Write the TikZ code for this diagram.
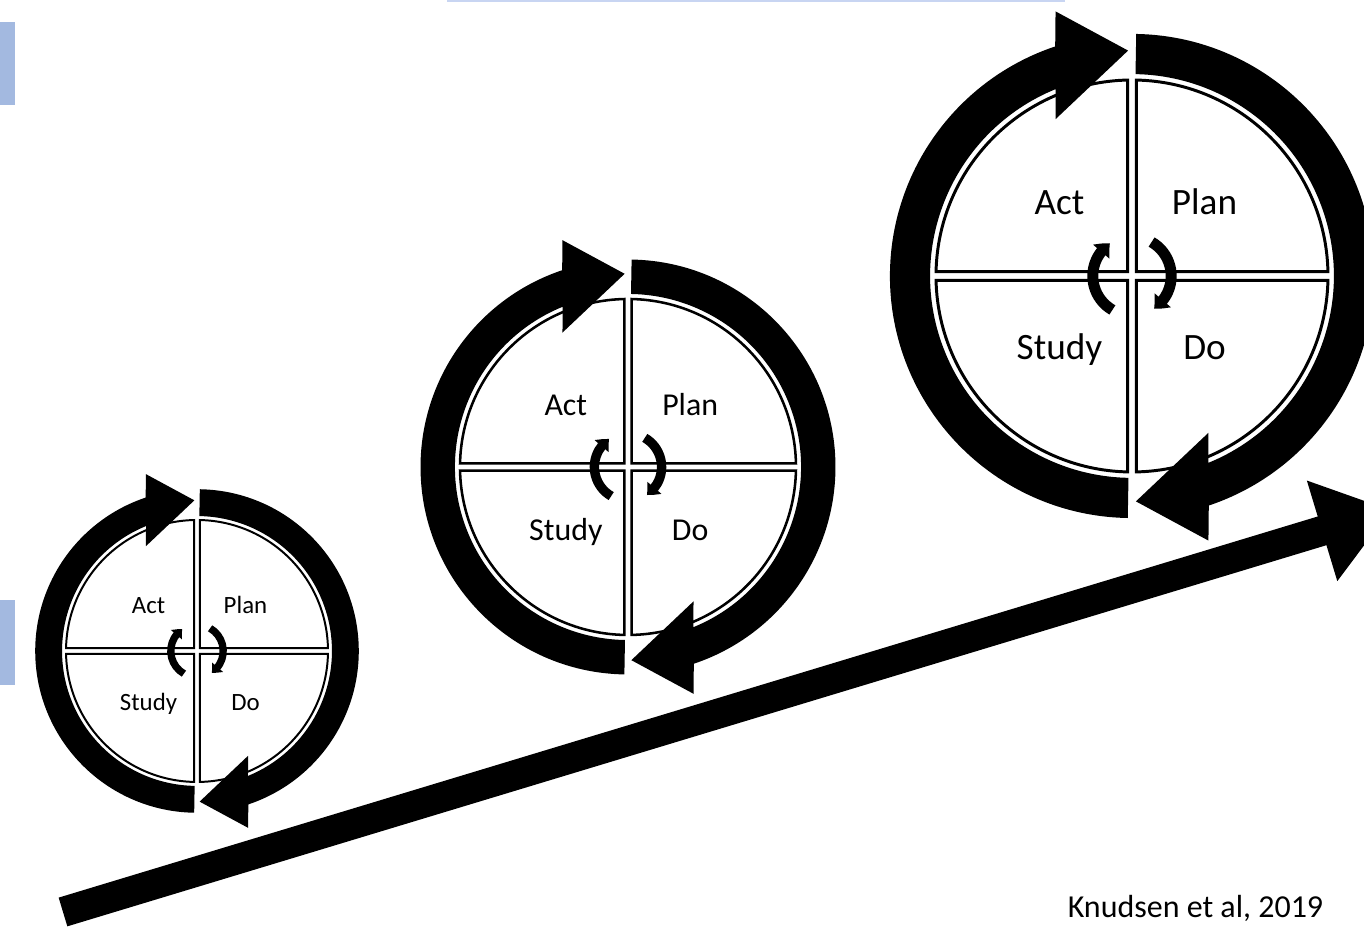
\documentclass[tikz,border=0pt]{standalone}
\usepackage{fontspec}
\setmainfont{Carlito}
\usetikzlibrary{arrows.meta,bending}

\definecolor{markblue}{RGB}{163,185,224}
\definecolor{lineblue}{RGB}{200,213,242}

\begin{document}
\begin{tikzpicture}[
    quadrant/.style={draw=black, fill=white},
    cyclearc/.style={fill=black},
    turn/.style={draw=black, -{Triangle[bend, length=0pt 1.1, width=0pt 1.9]}},
    phase/.style={inner sep=0pt, text height=0.63em, text depth=0pt},
    growth/.style={draw=black, line width=0.30cm, -{Triangle[length=0.72cm, width=1.0cm]}}
]
\useasboundingbox (0,0) rectangle (13.64,9.27);
\clip (0,0) rectangle (13.64,9.27);
\fill[white] (0,0) rectangle (13.64,9.27);

% marks on the edges
\fill[markblue] (0,8.22) rectangle (0.15,9.05);
\fill[markblue] (0,2.42) rectangle (0.15,3.27);
\fill[lineblue] (4.47,9.25) rectangle (10.65,9.27);

% rising arrow
\coordinate (start) at (0.63,0.15);
\coordinate (goal) at (13.91,4.17);
\draw[growth] (start) -- (goal);

% the three cycles
\foreach \n/\x/\y/\r in {a/1.97/2.76/1.31, b/6.28/4.60/1.68, c/11.32/6.51/1.96} {
  \pgfmathsetmacro\fs{5.4*\r}
  \pgfmathsetmacro\lw{0.43*\r}
  \pgfmathsetmacro\tw{0.056*\r}
  \begin{scope}[shift={(\x,\y)}, scale=\r]
    \foreach \a in {0,90,180,270}
      \draw[quadrant, rotate=\a, line width=\lw pt] (0.022,0.022) -- (88.74:1)
        arc[start angle=88.74, end angle=1.26, radius=1] -- cycle;
    \foreach \a in {0,180}
      \fill[cyclearc, rotate=\a] (269:1.235) arc[start angle=269, end angle=108.5, radius=1.235]
        -- (-0.39,1.35) -- (-0.02,1.15) -- (-0.39,0.80) -- (112.2:1.03)
        arc[start angle=112.2, end angle=269, radius=1.03] -- cycle;
    \foreach \a in {0,180}
      \draw[turn, rotate=\a, line width=\tw cm] (240:0.2) arc[start angle=240, end angle=124, radius=0.2];
    \node[phase, font={\fontsize{\fs}{\fs}\selectfont}] (act\n) at (-0.37,0.37) {Act};
    \node[phase, font={\fontsize{\fs}{\fs}\selectfont}] (plan\n) at (0.37,0.37) {Plan};
    \node[phase, font={\fontsize{\fs}{\fs}\selectfont}] (study\n) at (-0.37,-0.37) {Study};
    \node[phase, font={\fontsize{\fs}{\fs}\selectfont}] (do\n) at (0.37,-0.37) {Do};
  \end{scope}
}

\node[anchor=base, inner sep=0pt, font=\fontsize{9.1}{11}\selectfont] (source) at (11.955,0.09) {Knudsen et al, 2019};
\end{tikzpicture}
\end{document}
